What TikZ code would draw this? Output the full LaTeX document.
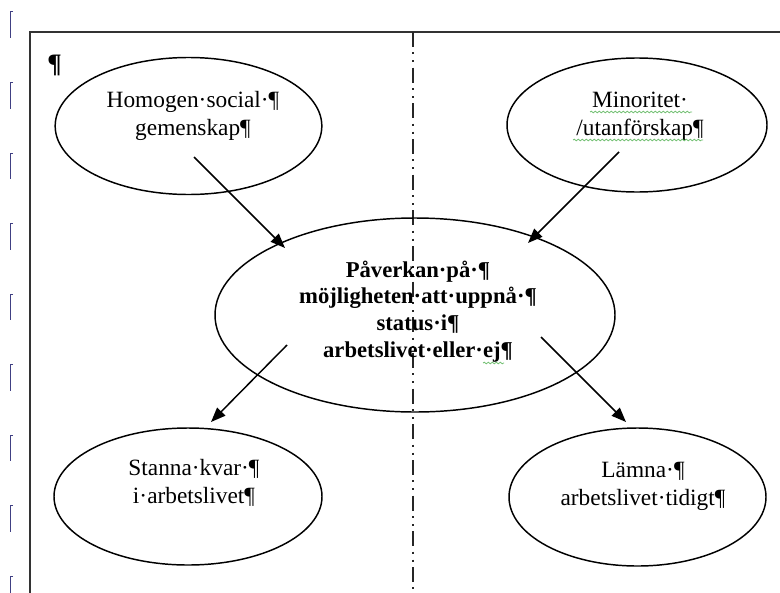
\documentclass[tikz,border=0pt]{standalone}
\usepackage{fontspec}
\setmainfont{Liberation Serif}
\usetikzlibrary{arrows.meta, shapes.geometric, decorations.pathmorphing}

\begin{document}
\begin{tikzpicture}[x=0.75pt, y=-0.75pt,
    oval/.style = {draw, ellipse, line width=1.1pt, inner sep=0pt},
    txt/.style = {align=center, inner sep=0pt, anchor=base, font=\fontsize{17.5}{20.5}\selectfont},
    link/.style = {-{Triangle[length=11pt,width=8.5pt]}, line width=1.1pt},
    spell/.style = {draw=green!55!black!55, line width=0.6pt, decorate, decoration={snake, amplitude=0.6pt, segment length=3pt}}]
    \useasboundingbox (0,0) rectangle (780,592);

    % margin marks and page frame
    \foreach \k in {0,...,8}
        \draw[line width=0.75pt, blue!35!black!75] (13,{12+70.5*\k}) -- (10,{12+70.5*\k}) -- ++(0,26);
    \draw[line width=1.6pt, black!80] (781,32) -- (30,32) -- (30,593);
    \draw[line width=1.5pt, black!85, dash pattern=on 11.25pt off 4pt on 1.5pt off 4.5pt on 1.5pt off 4pt] (413,32) -- (413,593);
    \node[inner sep=0pt, anchor=base west, font=\fontsize{20}{22}\selectfont\bfseries] (P) at (47,73) {¶};

    % ellipses
    \node[oval, minimum width=200pt, minimum height=102.75pt] (Hom) at (188.5,126) {};
    \node[oval, minimum width=195pt, minimum height=100.5pt] (Min) at (637,125) {};
    \node[oval, minimum width=300pt, minimum height=145.5pt] (Pav) at (415,315) {};
    \node[oval, minimum width=201pt, minimum height=102.75pt] (Sta) at (188,496.5) {};
    \node[oval, minimum width=192.75pt, minimum height=103.5pt] (Lam) at (637.5,497) {};

    % texts (base = last line)
    \node[txt] (HomT) at (193,135) {Homogen·social·¶\\gemenskap¶};
    \node[txt] (MinT) at (640,135) {Minoritet·\\/utanförskap¶};
    \node[txt, font=\fontsize{17}{20}\selectfont\bfseries] (PavT) at (418,357)
        {Påverkan·på·¶\\möjligheten·att·uppnå·¶\\status·i¶\\arbetslivet·eller·ej¶};
    \node[txt] (StaT) at (194,503) {Stanna·kvar·¶\\i·arbetslivet¶};
    \node[txt] (LamT) at (643,505) {Lämna·¶\\arbetslivet·tidigt¶};

    % spelling marks
    \draw[spell] (590,112) -- (692,112);
    \draw[spell] (573,140) -- (703,140);
    \draw[spell] (483,363) -- (504,363);

    % arrows
    \draw[link] ([shift={(5.5,31)}]Hom.center) -- ([shift={(-130,-67)}]Pav.center);
    \draw[link] ([shift={(-18,27)}]Min.center) -- ([shift={(113,-72)}]Pav.center);
    \draw[link] ([shift={(-128,30)}]Pav.center) -- ([shift={(23,-74.5)}]Sta.center);
    \draw[link] ([shift={(126,22)}]Pav.center) -- ([shift={(-11.5,-75)}]Lam.center);
\end{tikzpicture}
\end{document}
